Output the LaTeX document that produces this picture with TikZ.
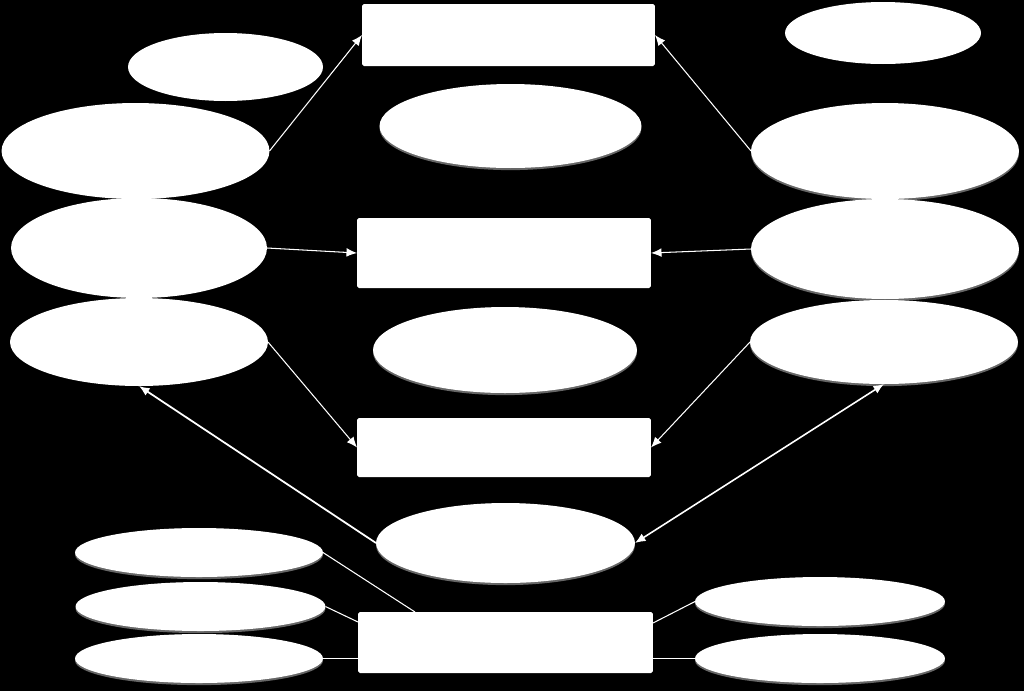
\documentclass[tikz,border=0pt]{standalone}
\usetikzlibrary{arrows.meta,shadows,shapes.geometric}
\tikzset{
  blob/.style={ellipse,fill=white,draw=none,inner sep=0pt,outer sep=0pt},
  glow/.style={drop shadow={shadow xshift=0pt,shadow yshift=-1.2pt,fill=gray,opacity=0.8}},
  box/.style={rectangle,rounded corners=1pt,fill=white,draw=none,inner sep=0pt,outer sep=0pt},
  link/.style={white,line width=0.6pt},
  tip/.style={-{Latex[length=6pt,width=5pt]}}
}
\begin{document}
\begin{tikzpicture}[x=0.02cm,y=-0.02cm]
      \fill[black] (0,0) rectangle (1024,691);
      \draw
        (508.5,35) node[box,minimum width=5.86cm,minimum height=1.24cm] (r1){}
        (504,253) node[box,minimum width=5.88cm,minimum height=1.4cm] (r2){}
        (504,447.5) node[box,minimum width=5.88cm,minimum height=1.18cm] (r3){}
        (505.5,642.5) node[box,minimum width=5.9cm,minimum height=1.22cm] (r4){}
        (225.5,67) node[blob,minimum width=3.9cm,minimum height=1.36cm] (e1){}
        (135.5,151) node[blob,minimum width=5.36cm,minimum height=1.92cm] (e2){}
        (139,248) node[blob,minimum width=5.12cm,minimum height=2cm] (e3){}
        (139,342) node[blob,minimum width=5.16cm,minimum height=1.76cm] (e4){}
        (510.5,126) node[blob,glow,minimum width=5.24cm,minimum height=1.68cm] (e5){}
        (505,350) node[blob,glow,minimum width=5.28cm,minimum height=1.72cm] (e6){}
        (505.5,543) node[blob,glow,minimum width=5.18cm,minimum height=1.6cm] (e7){}
        (883,33) node[blob,minimum width=3.92cm,minimum height=1.24cm] (e8){}
        (885,151) node[blob,glow,minimum width=5.36cm,minimum height=1.92cm] (e9){}
        (885,249) node[blob,glow,minimum width=5.36cm,minimum height=2cm] (e10){}
        (884,342) node[blob,glow,minimum width=5.36cm,minimum height=1.68cm] (e11){}
        (199,552.5) node[blob,glow,minimum width=4.96cm,minimum height=0.98cm] (e12){}
        (200.5,606.5) node[blob,glow,minimum width=5cm,minimum height=0.98cm] (e13){}
        (199,658.5) node[blob,glow,minimum width=4.96cm,minimum height=0.98cm] (e14){}
        (820,601.5) node[blob,glow,minimum width=5cm,minimum height=0.98cm] (e15){}
        (820,658.5) node[blob,glow,minimum width=5cm,minimum height=0.98cm] (e16){};
      \begin{scope}[link,tip]
        \draw (e2.east) to (r1.west);
        \draw (e9.west) to (r1.east);
        \draw (e3.east) to (r2.west);
        \draw (e10.west) to (r2.east);
        \draw (e4.east) to (r3.west);
        \draw (e11.west) to (r3.east);
        \draw[line width=1pt] (e7.west) to (e4.south);
        \draw[line width=0.9pt,{Latex[length=6pt,width=5pt]}-{Latex[length=6pt,width=5pt]}] (e11.south) to (e7.east);
      \end{scope}
      \begin{scope}[link]
        \draw (e12.east) to ([xshift=1.14cm]r4.north west);
        \draw (e13.east) to ([yshift=-0.2cm]r4.north west);
        \draw (e14.east) to (e14.east -| r4.west);
        \draw ([yshift=-0.22cm]r4.north east) to (e15.west);
        \draw (e16.west -| r4.east) to (e16.west);
      \end{scope}
    \end{tikzpicture}
\end{document}
